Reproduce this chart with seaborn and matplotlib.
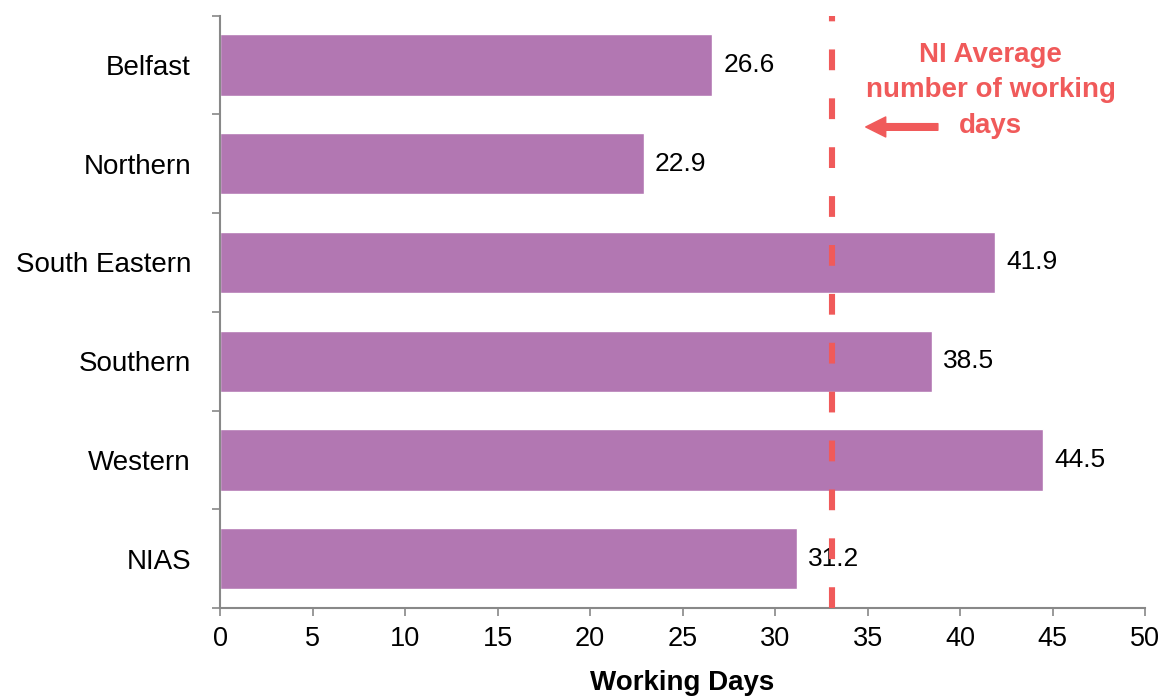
import matplotlib
matplotlib.use("Agg")
import matplotlib.pyplot as plt
import seaborn as sns
import numpy as np
import pandas as pd

regions = ["Belfast", "Northern", "South Eastern", "Southern", "Western", "NIAS"]
working_days = [26.6, 22.9, 41.9, 38.5, 44.5, 31.2]
ni_average = 33.1
x_ticks = [0, 5, 10, 15, 20, 25, 30, 35, 40, 45, 50]
annotation_text = "NI Average\nnumber of working\ndays"

sns.set_theme(style="white")
plt.rcParams["font.family"] = ["Liberation Sans", "DejaVu Sans"]
plt.rcParams["text.color"] = "black"
plt.rcParams["xtick.labelcolor"] = "black"
plt.rcParams["ytick.labelcolor"] = "black"
plt.rcParams["axes.labelcolor"] = "black"

bar_color = "#B277B2"
red = "#F05A5A"
grey = "#888888"

fig = plt.figure(figsize=(11.65, 6.96), dpi=100)
ax = fig.add_axes([0.1889, 0.1264, 0.7940, 0.8512])

df = pd.DataFrame({"Region": regions, "Days": working_days})
sns.barplot(data=df, x="Days", y="Region", orient="h", color=bar_color,
            saturation=1, width=0.62, ax=ax)

for cont in ax.containers:
    ax.bar_label(cont, labels=[f"{v:.1f}" for v in working_days],
                 padding=8, fontsize=19, color="black")

ax.axvline(ni_average, color=red, lw=4.4, linestyle=(0, (3.4, 4.6)),
           dash_capstyle="butt", zorder=3)

ax.set_xlim(0, 50)
ax.set_ylim(len(regions) - 0.5, -0.5)
ax.set_xticks(x_ticks)
ax.set_xticklabels([str(t) for t in x_ticks], fontsize=19.5)
ax.set_yticks(np.arange(len(regions)))
ax.set_yticklabels(regions, fontsize=20)
ax.set_yticks(np.arange(len(regions) + 1) - 0.5, minor=True)
ax.tick_params(axis="y", which="major", length=0, pad=21)
ax.tick_params(axis="y", which="minor", length=6, width=1.2, color=grey, direction="out", left=True)
ax.tick_params(axis="x", which="major", length=6, width=1.2, color=grey, direction="out",
               bottom=True, pad=7)
ax.set_xlabel("Working Days", fontsize=20, fontweight="bold", labelpad=13, color="black")
ax.set_ylabel("")

for s in ["top", "right"]:
    ax.spines[s].set_visible(False)
for s in ["left", "bottom"]:
    ax.spines[s].set_color(grey)
    ax.spines[s].set_linewidth(1.5)

ax.text(0.833, 0.874, annotation_text, transform=ax.transAxes, ha="center", va="center",
        fontsize=20, fontweight="bold", color=red, linespacing=1.48)
ax.annotate("", xy=(0.698, 0.812), xytext=(0.776, 0.812),
            xycoords="axes fraction", textcoords="axes fraction",
            arrowprops=dict(arrowstyle="simple,head_length=0.9,head_width=0.9,tail_width=0.3",
                            color=red, mutation_scale=16, shrinkA=0, shrinkB=0))

fig.savefig("out.png", dpi=100)
